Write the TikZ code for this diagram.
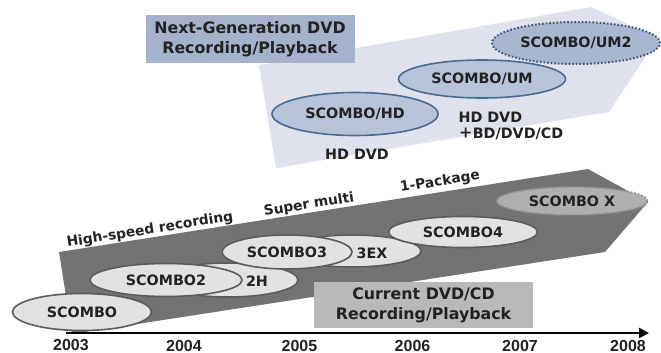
\documentclass[tikz,border=0pt]{standalone}
\usepackage{fontspec}
\setmainfont{DejaVu Sans}
\newfontfamily\yearfont{Liberation Sans}
\newfontfamily\cjk{Noto Sans CJK JP}
\usetikzlibrary{shapes.geometric,arrows.meta}

\definecolor{lowband}{HTML}{737373}
\definecolor{lowfill}{HTML}{E2E2E2}
\definecolor{lowline}{HTML}{5C5C5C}
\definecolor{xfill}{HTML}{AFAFAF}
\definecolor{curbox}{HTML}{B9B9B9}
\definecolor{upband}{HTML}{DFE1EC}
\definecolor{upfill}{HTML}{B7C3D9}
\definecolor{upline}{HTML}{4B6A92}
\definecolor{um2fill}{HTML}{A8B6CF}
\definecolor{nextbox}{HTML}{A4B2CC}
\definecolor{ink}{HTML}{222222}

\tikzset{
  lbl/.style={font=\bfseries\fontsize{14.3}{16}\selectfont,text=ink},
  boxlbl/.style={font=\bfseries\fontsize{15.8}{20}\selectfont,text=ink,align=center,inner sep=0pt},
  model/.style={ellipse,lbl,draw=lowline,fill=lowfill,line width=1.6pt,inner sep=0pt},
  upmodel/.style={model,draw=upline,fill=upfill},
  yearlbl/.style={font=\yearfont\bfseries\fontsize{16}{18}\selectfont,text=ink,inner sep=0pt},
  slant/.style={font=\bfseries\fontsize{13.8}{16}\selectfont,text=ink,rotate=9}
}

\begin{document}
\begin{tikzpicture}[x=1pt,y=-1pt]
\useasboundingbox (0,0) rectangle (661,353);
% next generation band
\fill[upband] (259,65) -- (591,7) -- (658,38) -- (609,112) -- (276,168) -- cycle;
\node[fill=nextbox,boxlbl,minimum width=209pt,minimum height=48pt]
  (nextgen) at (250,39) {Next-Generation DVD\\Recording/Playback};
\node[upmodel,minimum width=166pt,minimum height=43pt] (hd) at (355,114) {SCOMBO/HD};
\node[upmodel,minimum width=167pt,minimum height=38pt] (um) at (482,79) {SCOMBO/UM};
\node[upmodel,fill=um2fill,draw=upline!80!black,dotted,line width=2pt,minimum width=168pt,minimum height=42pt]
  (um2) at (576,43) {SCOMBO/UM2};
\node[lbl] (hddvd) at (357,154) {HD DVD};
\node[lbl,align=left,anchor=west] (combo) at (455,126) {HD DVD\\{\cjk ＋}BD/DVD/CD};

% current band
\fill[lowband] (59,252) -- (588,169) -- (648,202) -- (605,252) -- (72,334) -- cycle;
\node[slant] (speed) at (150,230) {High-speed recording};
\node[slant] (multi) at (309,205) {Super multi};
\node[slant] (pack) at (440,182) {1-Package};
\node[model,minimum width=140pt,minimum height=34pt] (s2h) at (228,280) {};
\node[lbl] (s2htxt) at (257,281) {2H};
\node[model,minimum width=152pt,minimum height=33pt] (s2) at (166,280) {SCOMBO2};
\node[model,minimum width=138pt,minimum height=32pt] (s3ex) at (352,251) {};
\node[lbl] (s3extxt) at (372,253) {3EX};
\node[model,minimum width=130pt,minimum height=34pt] (s3) at (287,252) {SCOMBO3};
\node[model,minimum width=149pt,minimum height=31pt] (s4) at (463,232) {SCOMBO4};
\node[model,fill=xfill,draw=lowline!70,dotted,line width=2pt,minimum width=151pt,minimum height=28pt]
  (sx) at (572,201) {SCOMBO X};
\node[model,minimum width=139pt,minimum height=37pt] (s1) at (82,312) {SCOMBO};
\node[fill=curbox,boxlbl,minimum width=219pt,minimum height=46pt]
  (current) at (423.5,305) {Current DVD/CD\\Recording/Playback};

% time axis
\coordinate (t0) at (66,333);
\coordinate (t1) at (649,333);
\draw[line width=2.5pt,-{Triangle[length=10pt,width=10pt]}] (t0) -- (t1);
\foreach \yr/\xp in {2003/71,2004/184,2005/299.5,2006/412.5,2007/520,2008/628}
  \node[yearlbl] (y\yr) at (\xp,345.5) {\yr};
\end{tikzpicture}
\end{document}
